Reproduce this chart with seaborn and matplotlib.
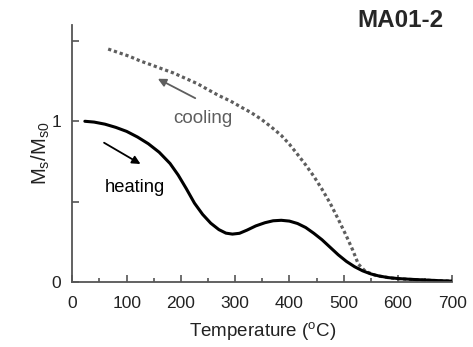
import matplotlib
matplotlib.use("Agg")
import matplotlib.pyplot as plt
import seaborn as sns
import pandas as pd

# Heating curve (Temperature in °C, normalized Ms/Ms0)
heat_T = [23, 40, 60, 80, 100, 120, 140, 160, 180, 195, 210, 225, 240, 255, 270, 283, 295,
          308, 322, 338, 355, 370, 385, 400, 415, 430, 445, 460, 475, 490, 505, 520, 535,
          550, 565, 582, 600, 625, 650, 675, 700]
heat_M = [1.0, 0.995, 0.982, 0.962, 0.937, 0.902, 0.86, 0.807, 0.737, 0.665, 0.58, 0.49, 0.42,
          0.365, 0.325, 0.303, 0.297, 0.302, 0.322, 0.348, 0.368, 0.38, 0.383, 0.378, 0.363,
          0.338, 0.302, 0.262, 0.215, 0.168, 0.127, 0.094, 0.068, 0.049, 0.036, 0.026, 0.02,
          0.015, 0.011, 0.007, 0.004]

# Cooling curve
cool_T = [66, 85, 105, 125, 145, 165, 187, 210, 230, 250, 270, 292, 310, 329, 348, 366, 385,
          400, 414, 430, 445, 460, 475, 490, 505, 517, 527, 540, 560, 590, 620, 650, 680, 700]
cool_M = [1.45, 1.428, 1.405, 1.376, 1.352, 1.327, 1.30, 1.265, 1.235, 1.197, 1.16, 1.125,
          1.09, 1.055, 1.013, 0.966, 0.912, 0.857, 0.798, 0.728, 0.657, 0.577, 0.49, 0.39,
          0.285, 0.195, 0.11, 0.065, 0.038, 0.022, 0.015, 0.01, 0.006, 0.004]

x_ticks = [0, 100, 200, 300, 400, 500, 600, 700]
y_ticks = [0, 0.5, 1, 1.5]
y_ticklabels = ["0", "", "1", ""]

sns.set_style("ticks")
plt.rcParams['font.family'] = ['Liberation Sans', 'DejaVu Sans']
plt.rcParams['mathtext.default'] = 'regular'

fig = plt.figure(figsize=(4.73, 3.47), dpi=100)
ax = fig.add_axes([0.153, 0.188, 0.803, 0.74])

heat = pd.DataFrame({"T": heat_T, "M": heat_M})
cool = pd.DataFrame({"T": cool_T, "M": cool_M})

sns.lineplot(data=cool, x="T", y="M", ax=ax, color="#5e5e5e", lw=2.3,
             sort=False, estimator=None)
ax.lines[-1].set_dashes((1.0, 0.9))
sns.lineplot(data=heat, x="T", y="M", ax=ax, color="black", lw=2.2,
             sort=False, estimator=None)

ax.set_xlim(0, 700)
ax.set_ylim(0, 1.6)
ax.set_xticks(x_ticks)
ax.set_xticks([50, 150, 250, 350, 450, 550, 650], minor=True)
ax.set_yticks(y_ticks)
ax.set_yticklabels(y_ticklabels)
ax.tick_params(axis='both', which='major', direction='in', length=5, width=1.2,
               color='#555555', labelsize=12.5, labelcolor='#222222')
ax.tick_params(axis='y', pad=8)
ax.tick_params(axis='x', pad=10)
ax.tick_params(axis='x', which='minor', direction='in', length=3, width=1.2, color='#555555')

for s in ['top', 'right']:
    ax.spines[s].set_visible(False)
for s in ['left', 'bottom']:
    ax.spines[s].set_color('#555555')
    ax.spines[s].set_linewidth(1.3)

ax.set_xlabel("Temperature ($^{o}$C)", fontsize=13.5, color='#222222', labelpad=7)
ax.set_ylabel("M$_{s}$/M$_{s0}$", fontsize=14.5, color='#222222', labelpad=0)

ax.annotate("", xy=(153, 1.273), xytext=(231, 1.136),
            arrowprops=dict(arrowstyle="-|>", color="#5e5e5e", lw=1.3, mutation_scale=12))
ax.text(240, 1.02, "cooling", color="#5e5e5e", fontsize=13.5, ha="center", va="center")
ax.annotate("", xy=(130, 0.725), xytext=(54, 0.875),
            arrowprops=dict(arrowstyle="-|>", color="black", lw=1.3, mutation_scale=12))
ax.text(116, 0.59, "heating", color="black", fontsize=13.2, ha="center", va="center")

fig.text(0.846, 0.94, "MA01-2", fontsize=17.5, fontweight="bold", ha="center", va="center")

fig.savefig("out.png", dpi=100)
